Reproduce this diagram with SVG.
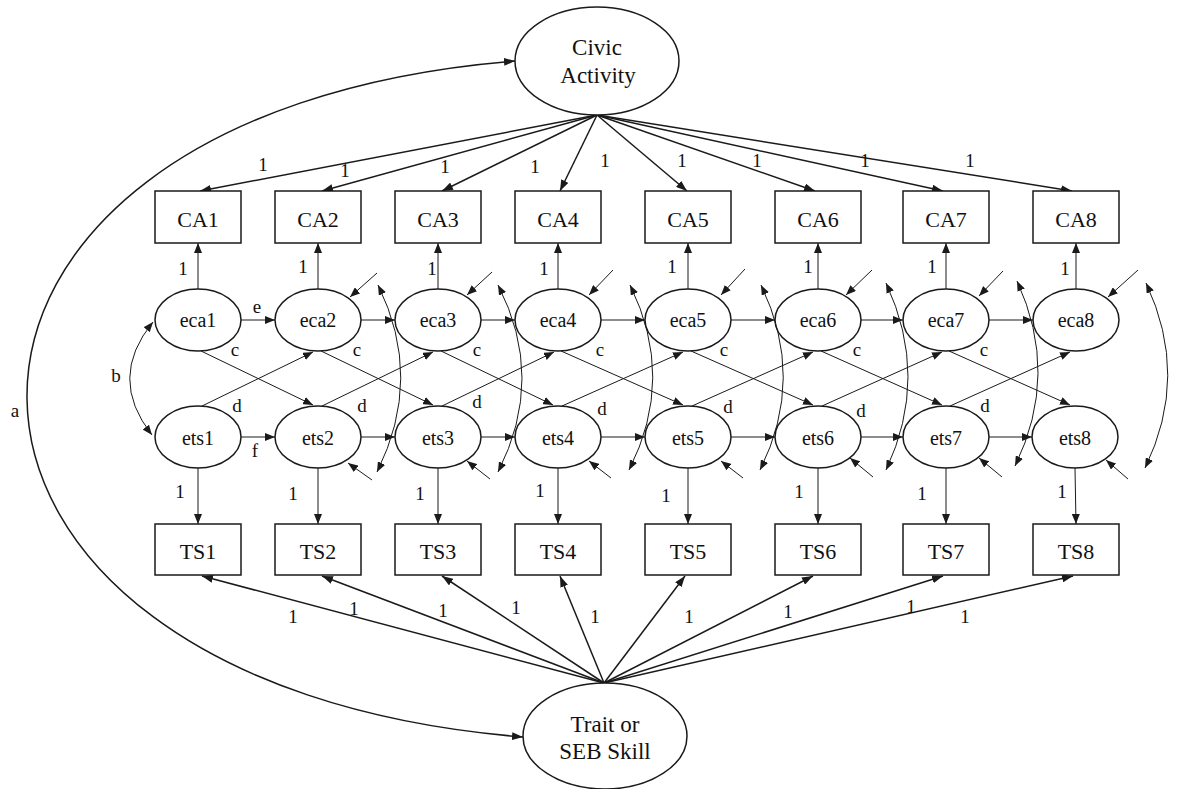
<svg xmlns="http://www.w3.org/2000/svg" width="1181" height="789" viewBox="0 0 1181 789">
<style>
.box{fill:#fff;stroke:#1a1a1a;stroke-width:1.5}
.ell{fill:#fff;stroke:#1a1a1a;stroke-width:1.5}
.t{font-family:"Liberation Serif","Times New Roman",serif;fill:#111;text-anchor:middle}
.nt{font-size:22px}
.et{font-size:20px}
.lt{font-size:23px}
.lb{font-size:19px}
.ld{fill:none;stroke:#1a1a1a;stroke-width:1.5;marker-end:url(#ah)}
.th{fill:none;stroke:#1a1a1a;stroke-width:1;marker-end:url(#ahs)}
.cv{fill:none;stroke:#1a1a1a;stroke-width:1;marker-start:url(#ahs);marker-end:url(#ahs)}
.cvb{fill:none;stroke:#1a1a1a;stroke-width:1.5;marker-start:url(#ah);marker-end:url(#ah)}
</style>
<defs>
<marker id="ah" viewBox="0 0 11 8" refX="11" refY="4" markerWidth="11" markerHeight="8" markerUnits="userSpaceOnUse" orient="auto-start-reverse"><path d="M0,0 L11,4 L0,8 z" fill="#1a1a1a"/></marker>
<marker id="ahs" viewBox="0 0 10 8" refX="10" refY="4" markerWidth="10" markerHeight="8" markerUnits="userSpaceOnUse" orient="auto-start-reverse"><path d="M0,0 L10,4 L0,8 z" fill="#1a1a1a"/></marker>
</defs>
<rect width="1181" height="789" fill="#fff"/>

<g id="connectors">
<!-- a curve -->
<path class="cvb" d="M515,61 C-141,114 -133,684 523,737"/>
<!-- Civic Activity loadings -->
<path class="ld" d="M597,115 L200,191"/>
<path class="ld" d="M597,115 L322,191"/>
<path class="ld" d="M597,115 L442,191"/>
<path class="ld" d="M597,115 L560,191"/>
<path class="ld" d="M597,115 L687,191"/>
<path class="ld" d="M597,115 L815,191"/>
<path class="ld" d="M597,115 L943,191"/>
<path class="ld" d="M597,115 L1072,191"/>
<!-- Trait loadings -->
<path class="ld" d="M604,683 L202,576"/>
<path class="ld" d="M604,683 L322,576"/>
<path class="ld" d="M604,683 L442,576"/>
<path class="ld" d="M604,683 L560,576"/>
<path class="ld" d="M604,683 L685,576"/>
<path class="ld" d="M604,683 L813,576"/>
<path class="ld" d="M604,683 L943,576"/>
<path class="ld" d="M604,683 L1073,576"/>
<!-- eca -> CA -->
<path class="th" d="M198,289 L198,243"/>
<path class="th" d="M318,289 L318,243"/>
<path class="th" d="M438,289 L438,243"/>
<path class="th" d="M558,289 L558,243"/>
<path class="th" d="M688,289 L688,243"/>
<path class="th" d="M818,289 L818,243"/>
<path class="th" d="M946,289 L946,243"/>
<path class="th" d="M1076,289 L1076,243"/>
<!-- ets -> TS -->
<path class="th" d="M198,468 L198,524"/>
<path class="th" d="M318,468 L318,524"/>
<path class="th" d="M438,468 L438,524"/>
<path class="th" d="M558,468 L558,524"/>
<path class="th" d="M688,468 L688,524"/>
<path class="th" d="M818,468 L818,524"/>
<path class="th" d="M946,468 L946,524"/>
<path class="th" d="M1075,468 L1076,524"/>
<!-- eca horizontal -->
<path class="th" d="M241,320 L275,320"/>
<path class="th" d="M361,320 L395,320"/>
<path class="th" d="M481,320 L515,320"/>
<path class="th" d="M601,320 L645,320"/>
<path class="th" d="M731,320 L775,320"/>
<path class="th" d="M861,320 L903,320"/>
<path class="th" d="M989,320 L1033,320"/>
<!-- ets horizontal -->
<path class="th" d="M241,437 L275,437"/>
<path class="th" d="M361,437 L395,437"/>
<path class="th" d="M481,437 L515,437"/>
<path class="th" d="M601,437 L645,437"/>
<path class="th" d="M731,437 L775,437"/>
<path class="th" d="M861,437 L903,437"/>
<path class="th" d="M989,437 L1032,437"/>
<!-- cross eca_i -> ets_i+1 -->
<path class="th" d="M201,351 L313,405"/>
<path class="th" d="M321,351 L433,405"/>
<path class="th" d="M441,351 L553,405"/>
<path class="th" d="M561,351 L683,405"/>
<path class="th" d="M691,351 L813,405"/>
<path class="th" d="M821,351 L942,405"/>
<path class="th" d="M949,351 L1070,405"/>
<!-- cross ets_i -> eca_i+1 -->
<path class="th" d="M202,406 L313,352"/>
<path class="th" d="M322,406 L433,352"/>
<path class="th" d="M442,406 L554,352"/>
<path class="th" d="M562,406 L683,352"/>
<path class="th" d="M692,406 L813,352"/>
<path class="th" d="M822,406 L942,352"/>
<path class="th" d="M950,406 L1070,352"/>
<!-- disturbances eca -->
<path class="th" d="M377,273 L350,297"/>
<path class="th" d="M492,272 L467,295"/>
<path class="th" d="M613,270 L589,295"/>
<path class="th" d="M745,269 L721,295"/>
<path class="th" d="M872,270 L846,295"/>
<path class="th" d="M1003,271 L979,296"/>
<path class="th" d="M1138,270 L1108,297"/>
<!-- disturbances ets -->
<path class="th" d="M372,480 L348,463"/>
<path class="th" d="M490,479 L467,461"/>
<path class="th" d="M611,478 L589,461"/>
<path class="th" d="M743,478 L721,461"/>
<path class="th" d="M873,477 L850,458"/>
<path class="th" d="M1002,477 L979,458"/>
<path class="th" d="M1128,479 L1106,460"/>
<!-- correlation curves -->
<path class="cv" d="M153,322 Q107,378 152,435"/>
<path class="cv" d="M378,285 Q424,378 377,472"/>
<path class="cv" d="M498,285 Q546,378 498,472"/>
<path class="cv" d="M630,285 Q676,378 629,470"/>
<path class="cv" d="M761,285 Q806,378 760,470"/>
<path class="cv" d="M886,283 Q930,377 886,470"/>
<path class="cv" d="M1017,281 Q1060,374 1015,466"/>
<path class="cv" d="M1146,283 Q1190,376 1145,468"/>
</g>

<g id="labels" class="t lb">
<text x="263" y="171">1</text><text x="345" y="177">1</text><text x="445" y="173">1</text><text x="535" y="173">1</text><text x="605" y="167">1</text><text x="682" y="167">1</text><text x="757" y="167">1</text><text x="865" y="167">1</text><text x="970" y="167">1</text>
<text x="183" y="275">1</text><text x="303" y="273">1</text><text x="432" y="275">1</text><text x="544" y="275">1</text><text x="672" y="273">1</text><text x="808" y="273">1</text><text x="932" y="273">1</text><text x="1065" y="275">1</text>
<text x="180" y="498">1</text><text x="293" y="500">1</text><text x="420" y="500">1</text><text x="540" y="497">1</text><text x="666" y="502">1</text><text x="799" y="498">1</text><text x="922" y="500">1</text><text x="1062" y="498">1</text>
<text x="293" y="623">1</text><text x="354" y="615">1</text><text x="443" y="617">1</text><text x="516" y="614">1</text><text x="595" y="623">1</text><text x="689" y="623">1</text><text x="788" y="618">1</text><text x="911" y="613">1</text><text x="965" y="623">1</text>
<text x="235" y="356">c</text><text x="357" y="356">c</text><text x="477" y="356">c</text><text x="600" y="356">c</text><text x="724" y="356">c</text><text x="857" y="356">c</text><text x="984" y="356">c</text>
<text x="237" y="412">d</text><text x="362" y="412">d</text><text x="477" y="408">d</text><text x="602" y="415">d</text><text x="728" y="413">d</text><text x="861" y="417">d</text><text x="985" y="412">d</text>
<text x="257" y="313">e</text><text x="255" y="457">f</text><text x="116" y="382">b</text><text x="15" y="417">a</text>
</g>

<g id="civic"><ellipse class="ell" cx="597" cy="61" rx="82" ry="54"/><text class="t lt" x="597" y="55">Civic</text><text class="t lt" x="598" y="83">Activity</text></g>
<g id="trait"><ellipse class="ell" cx="605" cy="736" rx="82" ry="53"/><text class="t lt" x="605" y="732">Trait or</text><text class="t lt" x="605" y="759">SEB Skill</text></g>

<g id="CA1"><rect class="box" x="155" y="191" width="86" height="52"/><text class="t nt" x="198" y="227">CA1</text></g>
<g id="CA2"><rect class="box" x="275" y="191" width="86" height="52"/><text class="t nt" x="318" y="227">CA2</text></g>
<g id="CA3"><rect class="box" x="395" y="191" width="86" height="52"/><text class="t nt" x="438" y="227">CA3</text></g>
<g id="CA4"><rect class="box" x="515" y="191" width="86" height="52"/><text class="t nt" x="558" y="227">CA4</text></g>
<g id="CA5"><rect class="box" x="645" y="191" width="86" height="52"/><text class="t nt" x="688" y="227">CA5</text></g>
<g id="CA6"><rect class="box" x="775" y="191" width="86" height="52"/><text class="t nt" x="818" y="227">CA6</text></g>
<g id="CA7"><rect class="box" x="903" y="191" width="86" height="52"/><text class="t nt" x="946" y="227">CA7</text></g>
<g id="CA8"><rect class="box" x="1033" y="191" width="86" height="52"/><text class="t nt" x="1076" y="227">CA8</text></g>

<g id="TS1"><rect class="box" x="155" y="524" width="86" height="51"/><text class="t nt" x="198" y="559">TS1</text></g>
<g id="TS2"><rect class="box" x="275" y="524" width="86" height="51"/><text class="t nt" x="318" y="559">TS2</text></g>
<g id="TS3"><rect class="box" x="395" y="524" width="86" height="51"/><text class="t nt" x="438" y="559">TS3</text></g>
<g id="TS4"><rect class="box" x="515" y="524" width="86" height="51"/><text class="t nt" x="558" y="559">TS4</text></g>
<g id="TS5"><rect class="box" x="645" y="524" width="86" height="51"/><text class="t nt" x="688" y="559">TS5</text></g>
<g id="TS6"><rect class="box" x="775" y="524" width="86" height="51"/><text class="t nt" x="818" y="559">TS6</text></g>
<g id="TS7"><rect class="box" x="903" y="524" width="86" height="51"/><text class="t nt" x="946" y="559">TS7</text></g>
<g id="TS8"><rect class="box" x="1033" y="524" width="86" height="51"/><text class="t nt" x="1076" y="559">TS8</text></g>

<g id="eca1"><ellipse class="ell" cx="198" cy="320" rx="43" ry="31" fill-opacity="0"/><text class="t et" x="198" y="327">eca1</text></g>
<g id="eca2"><ellipse class="ell" cx="318" cy="320" rx="43" ry="31" fill-opacity="0"/><text class="t et" x="318" y="327">eca2</text></g>
<g id="eca3"><ellipse class="ell" cx="438" cy="320" rx="43" ry="31" fill-opacity="0"/><text class="t et" x="438" y="327">eca3</text></g>
<g id="eca4"><ellipse class="ell" cx="558" cy="320" rx="43" ry="31" fill-opacity="0"/><text class="t et" x="558" y="327">eca4</text></g>
<g id="eca5"><ellipse class="ell" cx="688" cy="320" rx="43" ry="31" fill-opacity="0"/><text class="t et" x="688" y="327">eca5</text></g>
<g id="eca6"><ellipse class="ell" cx="818" cy="320" rx="43" ry="31" fill-opacity="0"/><text class="t et" x="818" y="327">eca6</text></g>
<g id="eca7"><ellipse class="ell" cx="946" cy="320" rx="43" ry="31" fill-opacity="0"/><text class="t et" x="946" y="327">eca7</text></g>
<g id="eca8"><ellipse class="ell" cx="1076" cy="320" rx="43" ry="31" fill-opacity="0"/><text class="t et" x="1076" y="327">eca8</text></g>

<g id="ets1"><ellipse class="ell" cx="198" cy="437" rx="43" ry="31" fill-opacity="0"/><text class="t et" x="198" y="445">ets1</text></g>
<g id="ets2"><ellipse class="ell" cx="318" cy="437" rx="43" ry="31" fill-opacity="0"/><text class="t et" x="318" y="445">ets2</text></g>
<g id="ets3"><ellipse class="ell" cx="438" cy="437" rx="43" ry="31" fill-opacity="0"/><text class="t et" x="438" y="445">ets3</text></g>
<g id="ets4"><ellipse class="ell" cx="558" cy="437" rx="43" ry="31" fill-opacity="0"/><text class="t et" x="558" y="445">ets4</text></g>
<g id="ets5"><ellipse class="ell" cx="688" cy="437" rx="43" ry="31" fill-opacity="0"/><text class="t et" x="688" y="445">ets5</text></g>
<g id="ets6"><ellipse class="ell" cx="818" cy="437" rx="43" ry="31" fill-opacity="0"/><text class="t et" x="818" y="445">ets6</text></g>
<g id="ets7"><ellipse class="ell" cx="946" cy="437" rx="43" ry="31" fill-opacity="0"/><text class="t et" x="946" y="445">ets7</text></g>
<g id="ets8"><ellipse class="ell" cx="1075" cy="437" rx="43" ry="31" fill-opacity="0"/><text class="t et" x="1075" y="445">ets8</text></g>
</svg>
